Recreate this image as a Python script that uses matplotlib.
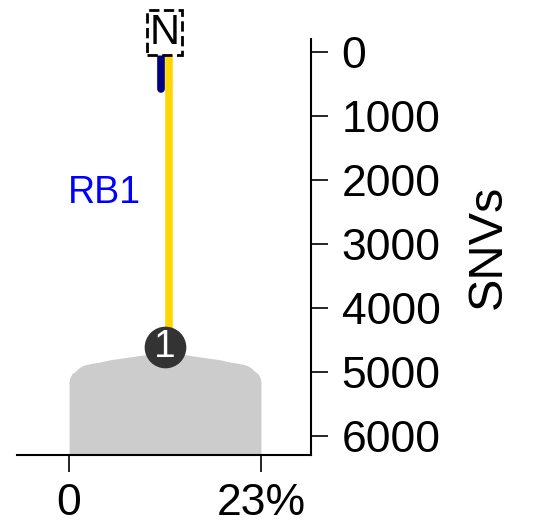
import matplotlib
matplotlib.use('Agg')
import matplotlib.pyplot as plt

plt.rcParams['font.family'] = ['Liberation Sans', 'DejaVu Sans']

# grey clone area: top edge (SNVs) across the x range (%)
shape_x = [0, 0.12, 0.36, 0.72, 1.2, 1.72, 2.52, 3.72, 4.92, 7.32, 9.72, 11.5,
           13.28, 15.68, 18.08, 19.28, 20.48, 21.28, 21.8, 22.28, 22.64, 22.88, 23]
shape_top = [5140, 5080, 5020, 4990, 4930, 4890, 4865, 4840, 4805, 4760, 4715, 4680,
             4715, 4760, 4805, 4840, 4865, 4890, 4930, 4990, 5020, 5080, 5140]

# branches of the tree
branch_x = [11, 12]
branch_start = [0, 0]
branch_end = [580, 4605]
branch_colors = ['#000080', '#FFD700']

node_x, node_y, node_label = 11.5, 4605, '1'
root_x, root_y, root_label = 11.5, -300, 'N'
clone_label = 'RB1'
label_x, label_y = 4.2, 2200

xticks = [0, 23]
xticklabels = ['0', '23%']
yticks = [0, 1000, 2000, 3000, 4000, 5000, 6000]

fig = plt.figure(figsize=(5.33, 5.26), dpi=100)
ax = fig.add_axes([0.0325, 0.135, 0.551, 0.791])

ax.fill_between(shape_x, shape_top, 7000, color='#cccccc', lw=0, zorder=1)

for x, y0, y1, c in zip(branch_x, branch_start, branch_end, branch_colors):
    ax.plot([x, x], [y0, y1], color=c, lw=5.5, solid_capstyle='round', zorder=2)

ax.plot(node_x, node_y, 'o', ms=29, color='#333333', zorder=3)
ax.text(node_x, node_y, node_label, color='white', fontsize=28, ha='center', va='center', zorder=4)

ax.text(root_x, root_y, root_label, fontsize=30, ha='center', va='center', zorder=5, clip_on=False,
        bbox=dict(boxstyle='square,pad=0.06', fc='white', ec='black', ls='--', lw=2))

ax.text(label_x, label_y, clone_label, color='#0000ff', fontsize=27, ha='center', va='center')

ax.set_xlim(-6.2, 29)
ax.set_ylim(6292, -206)
ax.set_xticks(xticks)
ax.set_xticklabels(xticklabels)
ax.set_yticks(yticks)
ax.yaxis.tick_right()
ax.yaxis.set_label_position('right')
ax.set_ylabel('SNVs', fontsize=35, labelpad=18)

ax.spines['left'].set_visible(False)
ax.spines['top'].set_visible(False)
ax.spines['right'].set_linewidth(1.5)
ax.spines['bottom'].set_linewidth(1.5)
ax.tick_params(axis='both', length=12, width=1.2, labelsize=32, direction='out')
ax.tick_params(axis='y', pad=10)
ax.tick_params(axis='x', pad=8)

fig.savefig('out.png', dpi=100)
